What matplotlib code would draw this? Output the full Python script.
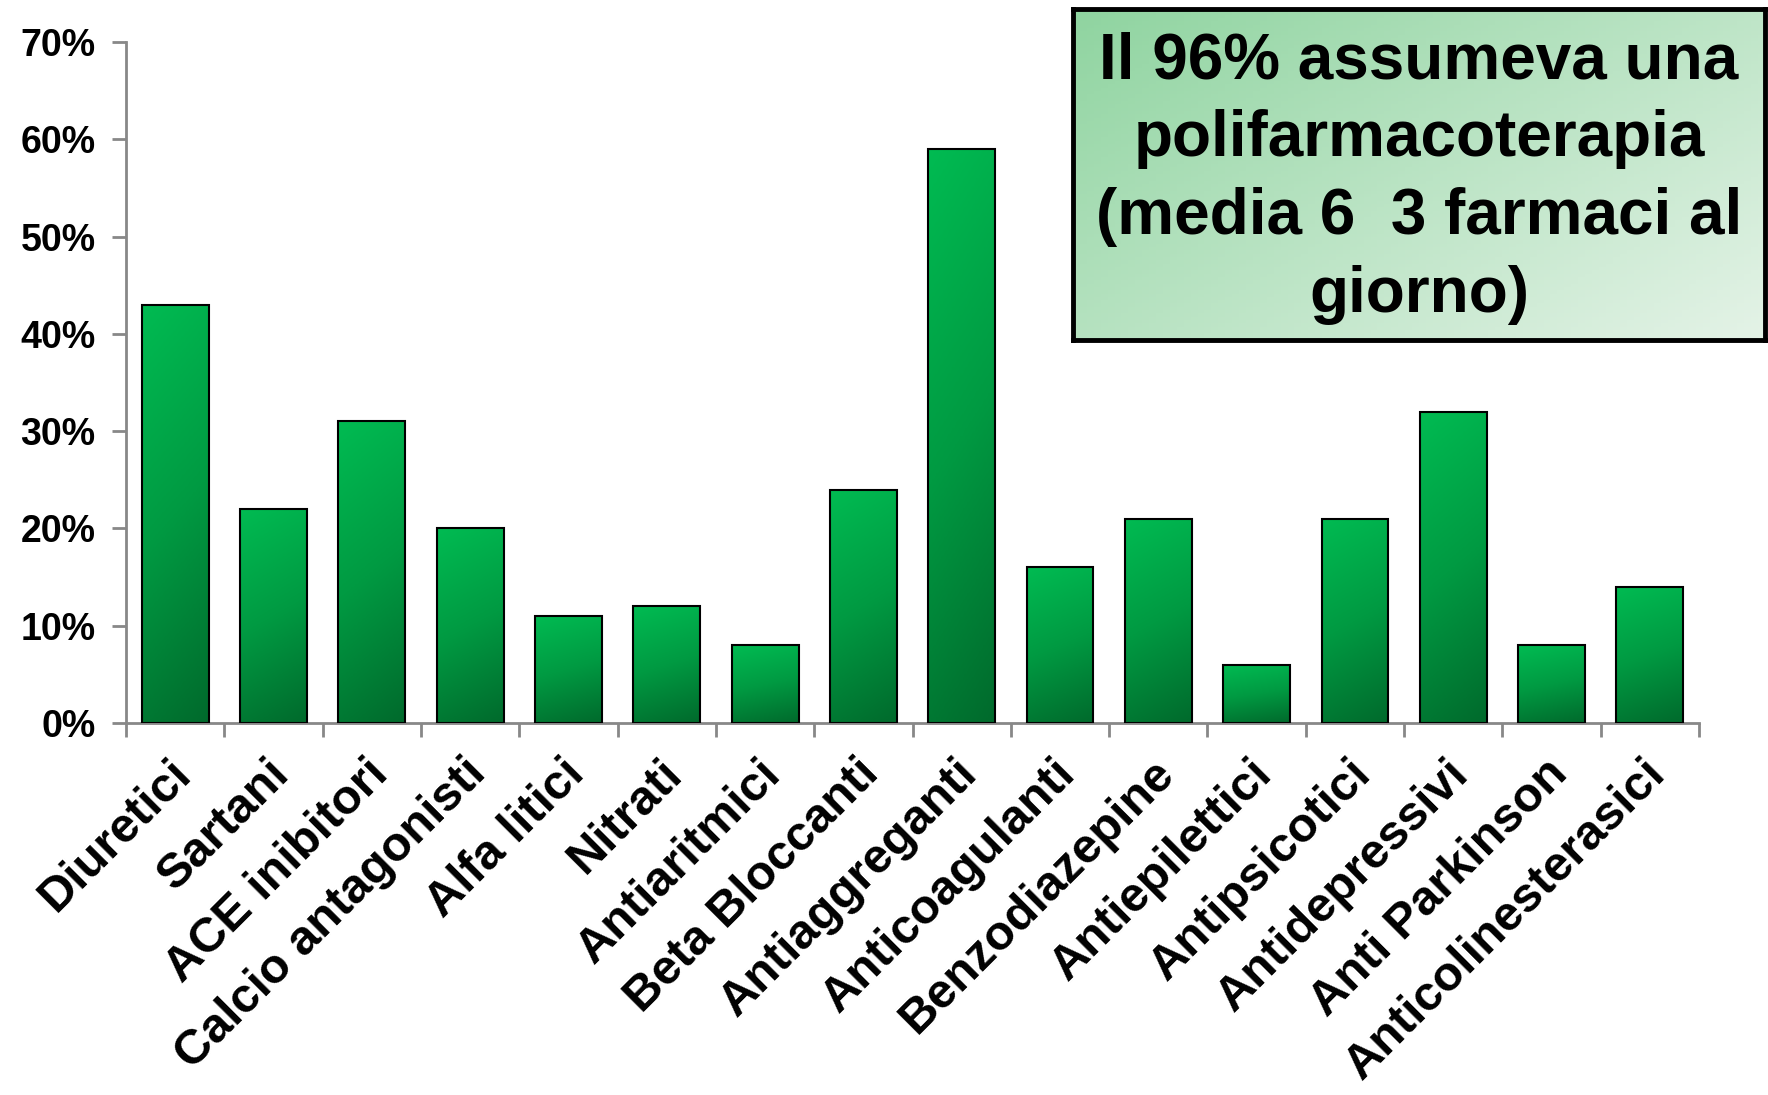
import numpy as np
import matplotlib
matplotlib.use("Agg")
import matplotlib.pyplot as plt
import matplotlib.transforms as mtransforms
from matplotlib.colors import LinearSegmentedColormap
from matplotlib.patches import Rectangle
from matplotlib.ticker import PercentFormatter, FixedLocator

# ---------- data ----------
categories = ["Diuretici", "Sartani", "ACE inibitori", "Calcio antagonisti",
              "Alfa litici", "Nitrati", "Antiaritmici", "Beta Bloccanti",
              "Antiaggreganti", "Anticoagulanti", "Benzodiazepine",
              "Antiepilettici", "Antipsicotici", "Antidepressivi",
              "Anti Parkinson", "Anticolinesterasici"]
values = [43, 22, 31, 20, 11, 12, 8, 24, 59, 16, 21, 6, 21, 32, 8, 14]
box_text = "Il 96% assumeva una\npolifarmacoterapia\n(media 6  3 farmaci al\ngiorno)"

plt.rcParams['font.family'] = ['Liberation Sans', 'DejaVu Sans']

fig = plt.figure(figsize=(17.68, 10.95), dpi=100)
ax = fig.add_axes([0.0713, 0.3397, 0.8897, 0.6219])

bar_cmap = LinearSegmentedColormap.from_list("bars", ["#00bb52", "#009a42", "#006a2c"])
grad = np.linspace(0, 1, 200)[:, None] * 0.85 + np.linspace(0, 1, 50)[None, :] * 0.15

x = np.arange(len(categories))
width = 0.68
bars = ax.bar(x, values, width=width, color="none", edgecolor="black", linewidth=1.5, zorder=3)
for b in bars:
    x0, y0 = b.get_x(), b.get_y()
    w, h = b.get_width(), b.get_height()
    im = ax.imshow(grad, cmap=bar_cmap, aspect="auto",
                   extent=[x0, x0 + w, y0, y0 + h], origin="upper", zorder=2)
    clip = Rectangle((x0, y0), w, h, transform=ax.transData)
    im.set_clip_path(clip)

ax.set_xlim(-0.5, len(categories) - 0.5)
ax.set_ylim(0, 70)
ax.set_yticks(np.arange(0, 71, 10))
ax.yaxis.set_major_formatter(PercentFormatter(decimals=0))

ax.set_xticks(x)
ax.set_xticklabels(categories, rotation=45, ha="right", rotation_mode="anchor",
                   fontsize=35, fontweight="bold")
ax.tick_params(axis="x", length=0, pad=20)
shift = mtransforms.ScaledTranslation(-7 / 100, 0, fig.dpi_scale_trans)
for lab in ax.get_xticklabels():
    lab.set_transform(lab.get_transform() + shift)
ax.xaxis.set_minor_locator(FixedLocator(np.arange(-0.5, len(categories), 1)))
ax.tick_params(axis="x", which="minor", length=10, width=2, color="#888888", direction="out")
ax.tick_params(axis="y", length=10, width=2, color="#888888", labelsize=27, pad=12)
for lab in ax.get_yticklabels():
    lab.set_fontweight("bold")

for s in ["top", "right"]:
    ax.spines[s].set_visible(False)
for s in ["left", "bottom"]:
    ax.spines[s].set_color("#888888")
    ax.spines[s].set_linewidth(2)

# ---------- text box ----------
bax = fig.add_axes([0.607, 0.6895, 0.3913, 0.3023])
bgrad = np.linspace(0, 1, 100)[None, :] * 0.55 + np.linspace(0, 1, 100)[:, None] * 0.45
box_cmap = LinearSegmentedColormap.from_list("box", ["#8fd4a0", "#e4f3e7"])
bax.imshow(bgrad, cmap=box_cmap, aspect="auto", extent=[0, 1, 0, 1], origin="upper")
bax.set_xlim(0, 1)
bax.set_ylim(0, 1)
bax.set_xticks([])
bax.set_yticks([])
for s in bax.spines.values():
    s.set_linewidth(3.5)
    s.set_color("black")
bax.text(0.5, 0.49, box_text, ha="center", va="center", fontsize=46,
         fontweight="bold", linespacing=1.38)

fig.savefig("out.png", dpi=100)
